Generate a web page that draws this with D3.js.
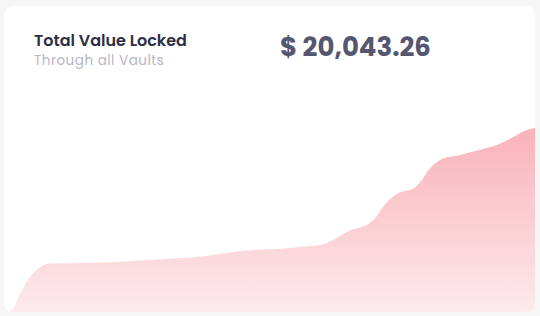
<!DOCTYPE html>
<html lang="en">
   <head>
      <meta charset="utf-8">
      <title>Total Value Locked</title>
      <style>
         body { margin: 0; background: #f6f6f6; }
         svg { display: block; }
         .title { fill: #2d2e46; font-family: Poppins, Inter, sans-serif; font-weight: 600; font-size: 16px; }
         .sub { fill: #b5b6c6; font-family: Poppins, Inter, sans-serif; font-weight: 400; font-size: 13.5px; letter-spacing: 0.5px; }
         .total { fill: #555770; font-family: Poppins, Inter, sans-serif; font-weight: 700; font-size: 26px; }
      </style>
      <script src="https://d3js.org/d3.v7.min.js"></script>
   </head>
   <body>
      <svg width="540" height="316"></svg>

      <script>
        // day index of each reading and the locked value (USD) on that day
        var days = [0, 1, 2, 3, 4, 5, 6, 10, 15, 19, 26, 32, 36, 39, 42, 44, 46, 47, 49, 50,
                    52, 54, 55, 56, 58, 60, 62, 64, 65, 67, 68, 69, 70];
        var tvl = [60, 180, 1800, 3300, 4350, 5010, 5280, 5340, 5440, 5650, 6040, 6700, 6850, 7080,
                   7350, 8150, 9000, 9200, 10300, 11500, 12950, 13450, 14300, 15500, 16750, 17080,
                   17500, 17950, 18200, 19000, 19470, 19850, 20043.26];
        var title = "Total Value Locked";
        var subtitle = "Through all Vaults";

        var data = days.map(function(d, i) { return { day: d, value: tvl[i] }; });

        var svg = d3.select("svg");
        var card = { x: 4, y: 6, w: 531, h: 306 };

        var defs = svg.append("defs");
        defs.append("clipPath")
           .attr("id", "cardClip")
           .append("rect")
           .attr("x", card.x).attr("y", card.y)
           .attr("width", card.w).attr("height", card.h)
           .attr("rx", 9);

        var grad = defs.append("linearGradient")
           .attr("id", "fillGrad")
           .attr("x1", 0).attr("y1", 0).attr("x2", 0).attr("y2", 1);
        grad.append("stop").attr("offset", "0%").attr("stop-color", "#f9b2ba");
        grad.append("stop").attr("offset", "100%").attr("stop-color", "#fdeaec");

        svg.append("rect")
           .attr("x", card.x).attr("y", card.y)
           .attr("width", card.w).attr("height", card.h)
           .attr("rx", 9)
           .attr("fill", "#ffffff");

        var x = d3.scaleLinear().domain([0, d3.max(days)]).range([card.x, card.x + card.w]);
        var y = d3.scaleLinear().domain([0, 22000]).range([card.y + card.h, 110]);

        var area = d3.area()
           .x(function(d) { return x(d.day); })
           .y0(y(0))
           .y1(function(d) { return y(d.value); })
           .curve(d3.curveMonotoneX);

        svg.append("g")
           .attr("clip-path", "url(#cardClip)")
           .append("path")
           .datum(data)
           .attr("d", area)
           .attr("fill", "url(#fillGrad)");

        svg.append("text")
           .attr("class", "title")
           .attr("x", 34).attr("y", 46)
           .text(title);

        svg.append("text")
           .attr("class", "sub")
           .attr("x", 34).attr("y", 65)
           .text(subtitle);

        svg.append("text")
           .attr("class", "total")
           .attr("x", 280).attr("y", 56)
           .text("$ " + d3.format(",.2f")(tvl[tvl.length - 1]));
      </script>
   </body>
</html>
